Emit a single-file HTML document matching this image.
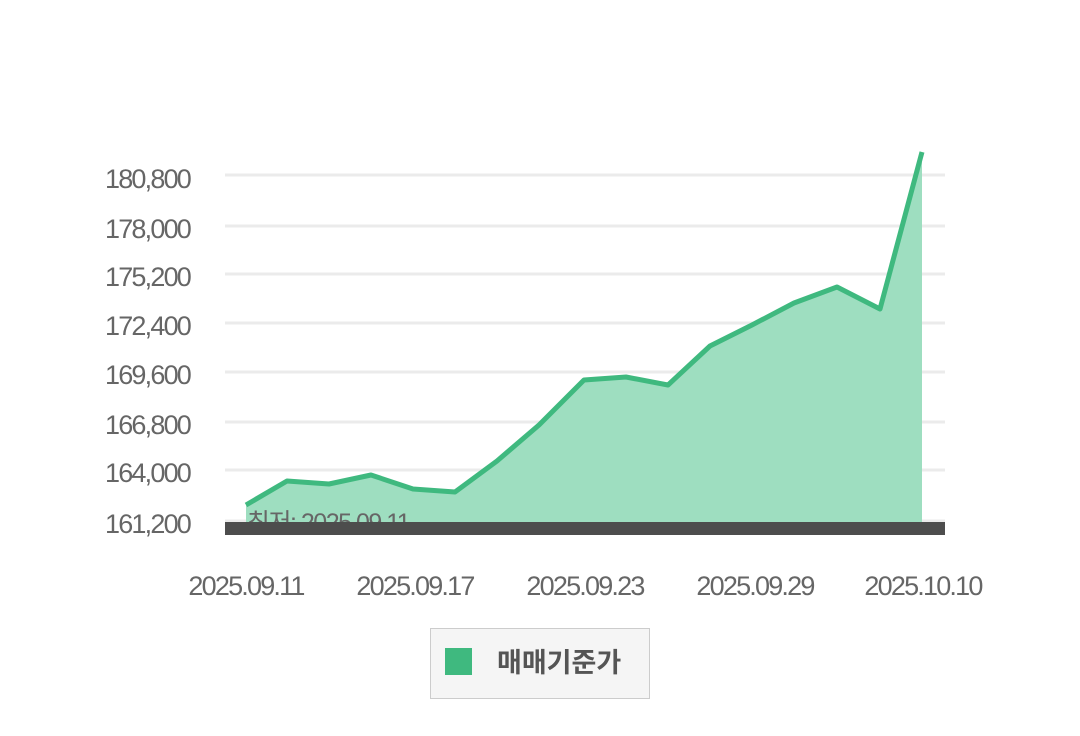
<!DOCTYPE html>
<html><head><meta charset="utf-8"><style>
html,body{margin:0;padding:0;background:#fff;}
body{width:1080px;height:736px;overflow:hidden;position:relative;font-family:"Liberation Sans","Noto Sans CJK KR",sans-serif;}
</style></head><body>
<svg width="1080" height="736" style="position:absolute;left:0;top:0">
<g stroke="#ebebeb" stroke-width="3">
<line x1="225" x2="945" y1="175" y2="175"/><line x1="225" x2="945" y1="226" y2="226"/>
<line x1="225" x2="945" y1="274" y2="274"/><line x1="225" x2="945" y1="323" y2="323"/>
<line x1="225" x2="945" y1="372" y2="372"/><line x1="225" x2="945" y1="422" y2="422"/>
<line x1="225" x2="945" y1="470" y2="470"/><line x1="225" x2="945" y1="521" y2="521"/>
</g>
<g font-size="27" fill="#666" text-anchor="end" letter-spacing="-1.8">
<text x="190" y="188">180,800</text><text x="190" y="238">178,000</text>
<text x="190" y="286">175,200</text><text x="190" y="335">172,400</text>
<text x="190" y="384">169,600</text><text x="190" y="434">166,800</text>
<text x="190" y="482">164,000</text><text x="190" y="533">161,200</text>
</g>
<polygon fill="#9edec0" points="246,505 287,481 329,484 371,475 413,489 455,492 497,461 539,425 584,380 626,377 668,385 710,346 752,325 794,303 837,287 880,309 922,152 922,524 246,524"/>
<text x="247" y="531" font-size="25" fill="#666" letter-spacing="-1.5">최저: 2025.09.11</text>
<polyline fill="none" stroke="#3fb97f" stroke-width="5" stroke-linejoin="round" points="246,505 287,481 329,484 371,475 413,489 455,492 497,461 539,425 584,380 626,377 668,385 710,346 752,325 794,303 837,287 880,309 922,152"/>
<rect x="225" y="522" width="720" height="13" fill="#4d4d4d"/>
<g font-size="27" fill="#666" text-anchor="middle" letter-spacing="-1.8">
<text x="246" y="595">2025.09.11</text><text x="415" y="595">2025.09.17</text>
<text x="585" y="595">2025.09.23</text><text x="755" y="595">2025.09.29</text>
<text x="923" y="595">2025.10.10</text>
</g>
<rect x="430.5" y="628.5" width="219" height="70" fill="#f5f5f5" stroke="#ccc"/>
<rect x="445" y="648" width="27" height="27" fill="#3fb97f"/>
<text x="497" y="672" font-size="27" font-weight="bold" fill="#555">매매기준가</text>
</svg>
</body></html>
